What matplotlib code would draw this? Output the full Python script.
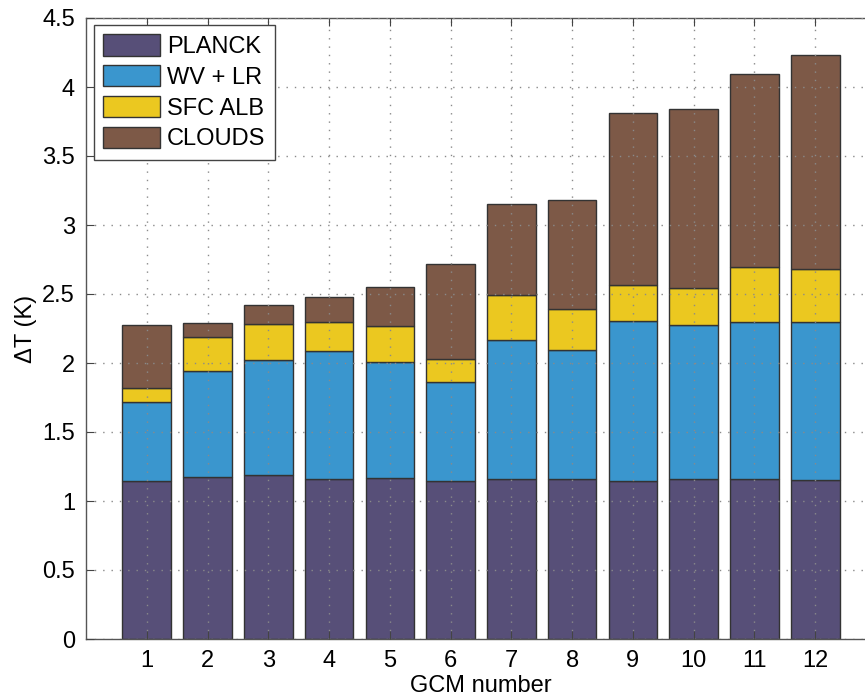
import numpy as np
import matplotlib
matplotlib.use('Agg')
import matplotlib.pyplot as plt

# Feedback contributions to warming
gcm = np.arange(1, 13)
planck = [1.145, 1.174, 1.186, 1.159, 1.167, 1.145, 1.157, 1.157, 1.145, 1.157, 1.157, 1.150]
wv_lr = [0.570, 0.768, 0.834, 0.928, 0.842, 0.715, 1.007, 0.935, 1.159, 1.121, 1.142, 1.145]
sfc_alb = [0.106, 0.244, 0.260, 0.208, 0.257, 0.171, 0.326, 0.301, 0.261, 0.263, 0.394, 0.384]
clouds = [0.454, 0.102, 0.142, 0.185, 0.285, 0.686, 0.664, 0.788, 1.247, 1.297, 1.399, 1.553]

labels = ['PLANCK', 'WV + LR', 'SFC ALB', 'CLOUDS']
colors = ['#574F78', '#3A96CE', '#EBC820', '#7D5947']

plt.rcParams['font.family'] = ['Liberation Sans Narrow', 'Liberation Sans', 'DejaVu Sans']

fig = plt.figure(figsize=(8.65, 6.97), dpi=100)
ax = fig.add_axes([86 / 865, 58 / 697, 790 / 865, 621 / 697])

bottom = np.zeros(len(gcm))
for vals, lab, col in zip([planck, wv_lr, sfc_alb, clouds], labels, colors):
    ax.bar(gcm, vals, width=0.8, bottom=bottom, color=col, edgecolor='#333333',
           linewidth=1.0, label=lab, zorder=1)
    bottom += np.array(vals)

ax.set_xlim(0, 13)
ax.set_ylim(0, 4.5)
ax.set_xticks(gcm)
ax.set_yticks(np.arange(0, 4.51, 0.5))
ax.set_yticklabels(['0', '0.5', '1', '1.5', '2', '2.5', '3', '3.5', '4', '4.5'])

ax.grid(True, linestyle=(0, (1, 5)), color='#8a8a8a', linewidth=1.0)
ax.set_axisbelow(False)

ax.tick_params(direction='in', length=6, width=0.8, color='#444444',
               labelsize=17, top=True, right=True, pad=8)
for s in ax.spines.values():
    s.set_color('#555555')
    s.set_linewidth(1.0)

ax.set_xlabel('GCM number', fontsize=17, labelpad=2)
ax.set_ylabel('\u0394T (K)', fontsize=17, labelpad=4)

leg = ax.legend(loc='upper left', bbox_to_anchor=(0.0101, 0.9887), borderaxespad=0,
                fancybox=False, framealpha=1, edgecolor='#444444',
                prop={'family': ['Liberation Sans', 'DejaVu Sans'], 'size': 17},
                handlelength=2.4, handleheight=1.0, handletextpad=0.3,
                labelspacing=0.3, borderpad=0.4)
leg.get_frame().set_linewidth(1.0)

plt.savefig('out.png', dpi=100)
